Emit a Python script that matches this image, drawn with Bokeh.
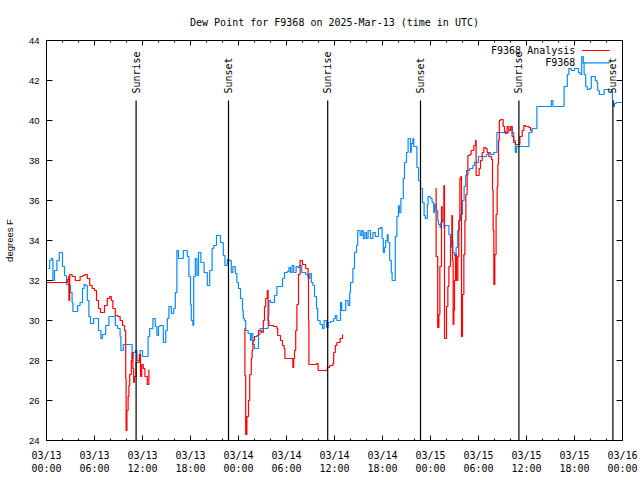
import math
from bokeh.plotting import figure
from bokeh.models import FixedTicker, LinearAxis, Range1d, Label, Arrow
from bokeh.core.properties import value
from bokeh.embed import file_html
from bokeh.resources import INLINE

NaN = float("nan")

title_text = "Dew Point for F9368 on 2025-Mar-13 (time in UTC)"
y_label = "degrees F"

# x axis: hours since 2025-03-13 00:00 UTC
tick_hours = [0, 6, 12, 18, 24, 30, 36, 42, 48, 54, 60, 66, 72]
tick_labels = ["03/13\n00:00", "03/13\n06:00", "03/13\n12:00", "03/13\n18:00",
               "03/14\n00:00", "03/14\n06:00", "03/14\n12:00", "03/14\n18:00",
               "03/15\n00:00", "03/15\n06:00", "03/15\n12:00", "03/15\n18:00",
               "03/16\n00:00"]
y_ticks = [24, 26, 28, 30, 32, 34, 36, 38, 40, 42, 44]

sun_hours = [11.2, 22.75, 35.15, 46.75, 59.05, 70.8]
sun_labels = ["Sunrise", "Sunset", "Sunrise", "Sunset", "Sunrise", "Sunset"]

series_names = ["F9368 Analysis", "F9368"]

# F9368 observed dew point
obs_hours = [0.2, 0.4, 0.6, 0.8, 1.0, 1.3, 1.6, 1.9, 2.0, 2.25,
             2.5, 2.8, 3.0, 3.2, 3.3, 3.7, 3.9, 4.2, 4.5, 4.7,
             4.9, 5.1, 5.3, 5.5, 5.75, 5.9, 6.3, 6.5, 6.8, 7.0,
             7.4, 7.8, 8.4, 8.6, 8.9, 9.2, 9.3, 9.6, 10.5, 10.7,
             10.8, 11.1, 11.3, 11.7, 12.0, 12.5, 12.7, 12.9, 13.3, 13.6,
             13.8, 14.0, 14.2, 14.6, 14.9, 15.1, 15.3, 15.6, 15.9, 16.1,
             16.3, 16.5, 16.8, 17.1, 17.3, 17.6, 17.8, 18.0, 18.1, 18.3,
             18.4, 18.6, 18.8, 19.0, 19.3, 19.7, 20.1, 20.4, 20.7, 20.9,
             21.25, 21.5, 21.75, 22.1, 22.3, 22.6, 22.8, 23.1, 23.3, 23.6,
             23.8, 24.0, 24.25, 24.5, 24.6, 24.75, 24.9, 25.1, 25.2, 25.5,
             25.6, 25.8, 26.0, 26.3, 26.5, 26.7, 27.5, 27.7, 27.8, 28.0,
             28.3, 28.5, 28.8, 29.2, 29.5, 29.75, 30.1, 30.3, 30.5, 30.7,
             30.9, 31.2, 31.4, 31.6, 31.9, 32.4, 32.7, 32.9, 33.1, 33.3,
             33.5, 33.75, 33.9, 34.2, 34.5, 34.7, 34.85, 35.0, 35.2, 35.5,
             35.9, 36.1, 36.3, 36.6, 36.75, 36.9, 37.2, 37.4, 37.6, 37.7,
             37.9, 38.0, 38.3, 38.5, 38.75, 38.9, 39.2, 39.4, 39.6, 39.8,
             40.0, 40.2, 40.5, 40.8, 41.1, 41.5, 41.75, 41.95, 42.1, 42.25,
             42.4, 42.6, 42.7, 42.9, 43.1, 43.2, 43.35, 43.6, 43.8, 44.0,
             44.1, 44.3, 44.6, 44.75, 45.0, 45.2, 45.35, 45.5, 45.6, 45.8,
             45.9, 46.3, 46.5, 46.75, 47.0, 47.2, 47.35, 47.6, 47.7, 48.0,
             48.2, 48.4, 48.5, 48.7, 48.9, 49.0, 49.2, 49.3, 49.5, 49.7,
             49.8, 50.0, 50.3, 50.5, 50.6, 50.8, 51.0, 51.2, 51.4, 51.6,
             51.75, 52.0, 52.2, 52.4, 52.5, 52.9, 53.3, 53.5, 53.8, 54.0,
             54.7, 55.0, 55.2, 55.5, 55.9, 56.1, 56.3, 57.5, 57.8, 58.0,
             58.2, 58.4, 58.6, 58.75, 60.1, 60.3, 60.7, 61.2, 61.3, 63.0,
             63.1, 63.3, 64.6, 64.7, 65.0, 65.1, 65.3, 65.6, 66.0, 66.3,
             66.5, 66.7, 66.9, 67.1, 67.2, 67.4, 67.6, 67.9, 68.1, 68.4,
             68.6, 68.8, 68.9, 69.1, 69.6, 69.7, 70.4, 70.6, 70.75, 70.85,
             71.0, 71.2, 72.0]
obs_dewpt = [32.6, 33.0, 33.1, 32.0, 32.5, 33.0, 33.4, 33.4, 32.7, 32.25,
             31.8, 31.75, 31.4, 30.9, 30.45, 30.45, 30.75, 30.9, 31.6, 31.8,
             31.75, 31.0, 30.2, 29.85, 29.85, 30.1, 30.1, 29.5, 29.1, 29.3,
             29.75, 30.2, 30.2, 29.75, 29.6, 29.2, 28.5, 28.8, 28.8, 28.1,
             28.4, 28.5, 28.0, 28.5, 28.2, 28.2, 29.2, 29.6, 30.1, 29.7,
             29.25, 29.7, 29.75, 28.9, 29.5, 30.1, 30.7, 30.35, 30.6, 31.4,
             33.5, 33.1, 33.1, 33.5, 33.5, 33.2, 32.2, 30.8, 30.0, 29.75,
             32.2, 33.1, 32.25, 33.4, 32.9, 32.4, 31.75, 32.5, 33.6, 33.75,
             34.25, 34.25, 33.9, 33.25, 32.75, 33.05, 33.0, 32.4, 32.7, 32.35,
             31.9, 31.6, 31.1, 30.5, 30.1, 30.0, 29.5, 29.5, 29.35, 29.0,
             29.35, 28.8, 28.6, 28.6, 29.3, 29.6, 29.6, 30.25, 31.0, 30.9,
             30.9, 31.25, 31.7, 31.7, 32.1, 32.4, 32.45, 32.65, 32.4, 32.75,
             32.4, 32.7, 32.65, 32.75, 32.4, 32.3, 32.1, 32.35, 31.9, 31.75,
             31.2, 30.6, 30.0, 29.8, 29.6, 30.0, 30.0, 29.65, 29.9, 29.95,
             30.1, 30.25, 30.0, 30.0, 30.9, 30.5, 30.5, 31.0, 31.0, 30.75,
             31.4, 31.9, 32.6, 33.4, 33.75, 34.5, 34.25, 34.5, 34.1, 34.4,
             34.1, 34.5, 34.1, 34.4, 34.2, 34.6, 34.65, 34.1, 33.4, 33.65,
             34.0, 34.3, 33.9, 33.0, 32.4, 32.0, 32.0, 34.2, 35.2, 35.75,
             35.4, 36.1, 37.1, 37.9, 38.4, 39.1, 39.1, 38.4, 38.85, 39.1,
             38.7, 37.65, 37.0, 36.6, 35.9, 35.25, 35.1, 35.8, 36.2, 36.1,
             35.9, 35.4, 35.8, 35.5, 35.0, 34.8, 34.65, 34.9, 35.0, 34.65,
             34.75, 34.75, 34.3, 33.65, 34.0, 33.4, 33.25, 33.65, 34.5, 35.0,
             35.3, 36.0, 36.7, 37.25, 37.5, 37.6, 37.75, 37.9, 37.9, 38.2,
             38.2, 38.3, 38.4, 38.3, 38.4, 38.4, 39.4, 39.4, 39.5, 39.7,
             39.4, 39.0, 38.4, 38.7, 38.7, 39.4, 39.6, 39.6, 40.7, 40.7,
             41.0, 40.7, 40.7, 41.7, 41.7, 42.3, 42.6, 42.5, 42.6, 42.6,
             42.4, 42.3, 43.2, 42.9, 42.3, 41.7, 41.55, 41.6, 42.2, 42.2,
             42.0, 41.9, 41.5, 41.3, 41.3, 41.55, 41.55, 41.45, 41.0, 40.7,
             40.85, 40.9, 40.9]

# F9368 Analysis dew point (NaN = no data)
ana_hours = [0.0, 2.4, 2.6, 2.75, 2.8, 2.9, 3.2, 3.6, 3.9, 4.2,
             4.5, 4.8, 5.1, 5.4, 5.7, 6.0, 6.25, 6.5, 6.75, 7.0,
             7.25, 7.6, 7.9, 8.1, 8.3, 8.6, 8.9, 9.2, 9.5, 9.75,
             9.9, 9.95, 10.05, 10.2, 10.3, 10.4, 10.6, 10.7, 10.8, 10.9,
             11.0, 11.2, 11.45, 11.6, 11.75, 11.9, 12.1, 12.3, 12.6, 12.75,
             12.8, NaN,
             24.75, 24.8, 24.9, 25.05, 25.25, 25.4, 25.6, 25.7, 25.8, 26.0,
             26.3, 26.5, 26.8, 26.9, 27.1, 27.25, 27.4, 27.6, 27.7, 27.8,
             28.0, 28.4, 28.8, 28.9, 29.25, 29.5, 29.7, 29.8, 30.7, 30.8,
             30.9, 31.0, 31.15, 31.3, 31.5, 31.7, 31.85, 32.0, 32.4, 32.7,
             32.75, 32.8, 33.75, 33.95, 35.0, 35.1, 35.4, 35.8, 35.9, 36.1,
             36.3, 36.7, 37.0, NaN,
             48.63, 48.7, 48.9, 49.05, 49.17, 49.33, 49.375, 49.46, 49.67, 49.75,
             49.92, 50.0, 50.17, 50.3, 50.5, 50.58, 50.67, 50.75, 50.83, 50.92,
             51.0, 51.125, 51.25, 51.42, 51.54, 51.67, 51.79, 51.875, 52.0, 52.17,
             52.3, 52.42, 52.58, 52.67, 52.92, 53.08, 53.42, 53.625, 53.7, 53.9,
             54.08, 54.25, 54.46, 54.67, 54.875, 55.08, 55.3, 55.625, 55.75, 55.83,
             55.92, 56.04, 56.2, 56.33, 56.42, 56.5, 56.6, 56.75, 57.08, 57.25,
             57.375, 57.58, 57.79, 58.0, 58.2, 58.4, 58.625, 58.9, 59.17, 59.46,
             59.67, 59.875, 60.3, 60.5, 60.7]
ana_dewpt = [31.9, 31.9, 32.05, 32.2, 31.0, 32.3, 32.2, 32.0, 32.0, 32.2,
             32.25, 32.3, 32.1, 31.75, 31.6, 31.5, 31.0, 30.6, 30.4, 30.4,
             30.75, 31.1, 31.2, 31.0, 30.6, 30.25, 30.2, 30.0, 29.75, 29.5,
             27.1, 24.5, 25.5, 26.2, 26.75, 27.3, 28.0, 28.4, 27.6, 26.9,
             27.2, 27.9, 27.9, 28.3, 27.2, 27.8, 27.6, 27.2, 26.8, 26.8,
             27.55, NaN,
             29.6, 27.25, 24.3, 25.2, 26.0, 27.3, 28.1, 28.5, 29.0, 29.2,
             29.25, 29.5, 29.5, 29.4, 30.0, 30.7, 31.1, 31.5, 30.0, 29.75,
             29.75, 29.7, 29.6, 29.25, 29.0, 28.75, 28.6, 28.1, 28.1, 27.65,
             28.1, 28.5, 29.5, 30.8, 32.3, 33.0, 33.0, 32.8, 32.6, 32.25,
             30.0, 27.8, 27.85, 27.5, 27.5, 27.65, 27.75, 27.85, 28.4, 28.75,
             28.9, 29.1, 29.3, NaN,
             36.6, 33.2, 29.65, 30.3, 32.7, 32.7, 35.7, 35.0, 36.75, 29.1,
             29.1, 30.7, 31.7, 32.7, 33.75, 34.2, 35.25, 33.0, 29.8, 30.5,
             32.0, 33.3, 32.0, 33.2, 35.0, 37.1, 37.2, 29.2, 31.3, 33.3,
             35.0, 36.3, 37.3, 38.25, 38.3, 38.5, 38.75, 39.0, 37.25, 37.25,
             37.6, 38.0, 38.4, 38.65, 38.6, 38.4, 38.2, 38.05, 36.5, 34.5,
             31.8, 33.3, 35.3, 36.7, 37.8, 39.0, 40.0, 40.05, 39.7, 39.45,
             39.35, 39.7, 39.5, 39.7, 39.2, 38.9, 38.8, 38.8, 39.2, 39.5,
             39.75, 39.7, 39.65, 39.5, 39.5]

# ---- styling constants ----
MONO = "DejaVu Sans Mono"
SANS = "Liberation Sans"
RED = "#ff0000"
BLUE = "#0a88ff"
X_MIN, X_MAX = 0, 72
Y_MIN, Y_MAX = 24, 44
SUN_LINE_TOP = 41.0
SUN_TEXT_BASE = 41.35
LEG_TEXT_X = 66.1
LEG_LINE_X0, LEG_LINE_X1 = 66.95, 70.4
LEG_ROW_Y = [43.5, 42.88]

p = figure(width=640, height=480,
           x_range=Range1d(X_MIN, X_MAX), y_range=Range1d(Y_MIN, Y_MAX),
           output_backend="svg", toolbar_location=None,
           min_border_left=46, min_border_right=18,
           min_border_top=40, min_border_bottom=40,
           title=title_text)
p.grid.visible = False
p.background_fill_color = "white"
p.border_fill_color = "white"
p.outline_line_color = "black"
p.outline_line_width = 1

p.title.text_font = MONO
p.title.text_font_size = "10px"
p.title.text_font_style = "normal"
p.title.align = "center"
p.title.text_color = "black"
p.title.standoff = 25

x_ticker = FixedTicker(ticks=tick_hours, minor_ticks=list(range(X_MIN, X_MAX + 1, 2)))
y_ticker = FixedTicker(ticks=y_ticks, minor_ticks=[])


def style_axis(ax):
    ax.axis_line_color = "black"
    ax.major_tick_line_color = "black"
    ax.minor_tick_line_color = "black"
    ax.major_tick_out = 0
    ax.minor_tick_out = 0


xa = p.xaxis[0]
xa.ticker = x_ticker
xa.major_label_overrides = {h: lab for h, lab in zip(tick_hours, tick_labels)}
xa.major_label_text_font = MONO
xa.major_label_text_font_size = "10px"
xa.major_label_text_color = "black"
xa.major_label_standoff = 9
style_axis(xa)
xa.major_tick_in = 5
xa.minor_tick_in = 2

ya = p.yaxis[0]
ya.ticker = y_ticker
ya.major_label_text_font = SANS
ya.major_label_text_font_size = "9.5px"
ya.major_label_text_color = "black"
ya.major_label_standoff = 7
ya.axis_label = y_label
ya.axis_label_text_font = SANS
ya.axis_label_text_font_size = "9.5px"
ya.axis_label_text_font_style = "normal"
ya.axis_label_text_color = "black"
ya.axis_label_standoff = 11
style_axis(ya)
ya.major_tick_in = 6
ya.minor_tick_in = 0

top = LinearAxis(ticker=x_ticker, major_label_overrides={h: "" for h in tick_hours},
                 major_label_standoff=0)
style_axis(top)
top.major_tick_in = 5
top.minor_tick_in = 2
p.add_layout(top, "above")

right = LinearAxis(ticker=y_ticker, major_label_overrides={v: "" for v in y_ticks},
                   major_label_standoff=0)
style_axis(right)
right.major_tick_in = 6
right.minor_tick_in = 0
p.add_layout(right, "right")

# observed series
p.step(obs_hours, obs_dewpt, mode="after", line_color=BLUE, line_width=1.2)

# analysis series, broken at NaN gaps
seg_x, seg_y = [], []
for h, v in zip(ana_hours + [NaN], ana_dewpt + [NaN]):
    if math.isnan(h):
        if seg_x:
            p.step(seg_x, seg_y, mode="after", line_color=RED, line_width=1.2)
        seg_x, seg_y = [], []
    else:
        seg_x.append(h)
        seg_y.append(v)

# sunrise / sunset markers
n = len(sun_hours)
p.segment(x0=sun_hours, y0=[Y_MIN] * n, x1=sun_hours, y1=[SUN_LINE_TOP] * n,
          line_color="black", line_width=1.2)
p.text(x=sun_hours, y=[SUN_TEXT_BASE] * n, text=sun_labels, angle=math.pi / 2,
       text_align="left", text_baseline="middle",
       text_font=value(MONO), text_font_size="10px", text_color="black")

# legend (gnuplot style: text then line sample)
for name, col, yy in zip(series_names, [RED, BLUE], LEG_ROW_Y):
    p.add_layout(Label(x=LEG_TEXT_X, y=yy, text=name, text_align="right",
                       text_baseline="middle", text_font=MONO,
                       text_font_size="10px", text_color="black"))
    p.add_layout(Arrow(end=None, x_start=LEG_LINE_X0, y_start=yy,
                       x_end=LEG_LINE_X1, y_end=yy,
                       line_color=col, line_width=1.2))

open("out.html", "w").write(file_html(p, INLINE))
